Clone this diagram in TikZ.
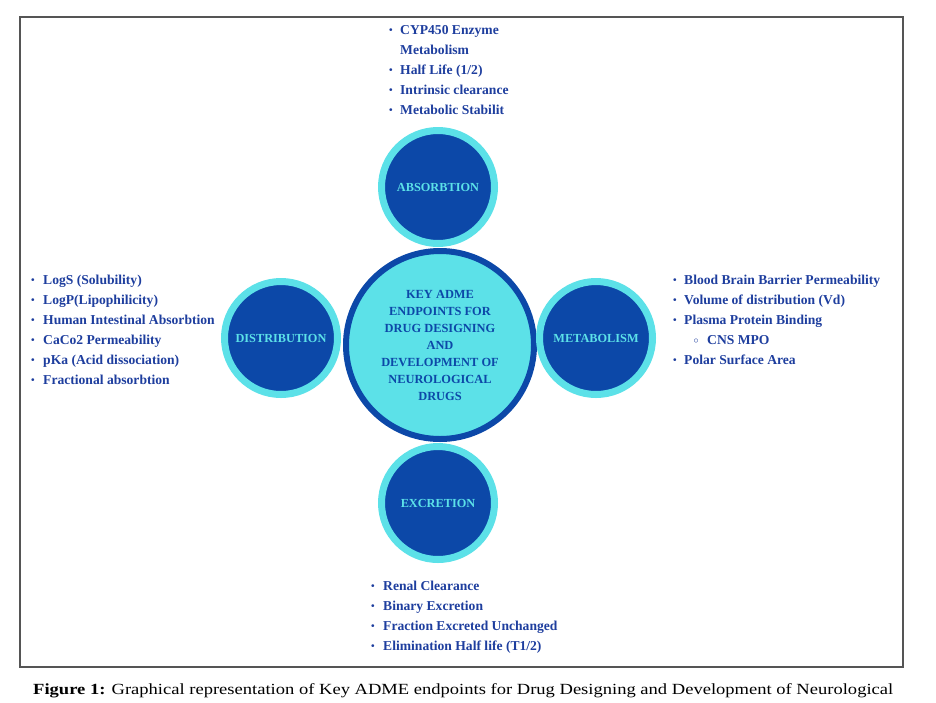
\documentclass[tikz,border=0pt]{standalone}
\usepackage{fontspec}
\setmainfont{Liberation Serif}
\usepackage{graphicx}
\usetikzlibrary{positioning}
\definecolor{admeblue}{RGB}{12,72,168}
\definecolor{admecyan}{RGB}{92,225,232}
\definecolor{listblue}{RGB}{30,62,158}
\definecolor{framegray}{RGB}{85,85,85}
\newcommand{\bul}{\raisebox{0.6pt}{\scalebox{0.75}{\textbullet}}}
\tikzset{
  endpoint/.style={circle, draw=admecyan, line width=7pt, fill=admeblue, minimum size=113pt, inner sep=0pt, text=admecyan, font=\fontsize{12.3}{14}\selectfont\bfseries},
  hub/.style={circle, draw=admeblue, line width=6pt, fill=admecyan, minimum size=188pt, inner sep=0pt, text=admeblue, align=center, font=\fontsize{12.4}{17}\selectfont\bfseries},
  listitem/.style={anchor=base west, inner sep=0pt, text=listblue, font=\fontsize{13.6}{15}\selectfont\bfseries},
  bulletmark/.style={anchor=base, inner sep=0pt, text=listblue, font=\fontsize{13.6}{15}\selectfont\bfseries},
  frame/.style={draw=framegray, line width=1.6pt}
}

\begin{document}
\begin{tikzpicture}[x=1pt,y=-1pt]
  \useasboundingbox (0,0) rectangle (936,702);
  \draw[frame] (20,17) rectangle (903,667);
  % hub and the four endpoints
  \node[hub] (hub) at (440,345) {KEY ADME\\ENDPOINTS FOR\\DRUG DESIGNING\\AND\\DEVELOPMENT OF\\NEUROLOGICAL\\DRUGS};
  \node[endpoint] (absorb) at (438,187) {ABSORBTION};
  \node[endpoint] (distrib) at (281,338) {DISTRIBUTION};
  \node[endpoint] (metab) at (596,338) {METABOLISM};
  \node[endpoint] (excret) at (438,503) {EXCRETION};
  % top list
  \foreach \y/\t [count=\k] in {34/{CYP450 Enzyme},74/{Half Life (1/2)},94/{Intrinsic clearance},114/{Metabolic Stabilit}}{
    \node[bulletmark] (absb\k) at (391,\y) {\bul};
    \node[listitem] (absi\k) at (400,\y) {\t};
  }
  \node[listitem] (absi0) at (400,54) {Metabolism};
  % left list
  \foreach \y/\t [count=\k] in {284/{LogS (Solubility)},304/{LogP(Lipophilicity)},324/{Human Intestinal Absorbtion},344/{CaCo2 Permeability},364/{pKa (Acid dissociation)},384/{Fractional absorbtion}}{
    \node[bulletmark] (disb\k) at (33,\y) {\bul};
    \node[listitem] (disi\k) at (43,\y) {\t};
  }
  % right list
  \foreach \y/\t [count=\k] in {284/{Blood Brain Barrier Permeability},304/{Volume of distribution (Vd)},324/{Plasma Protein Binding},364/{Polar Surface Area}}{
    \node[bulletmark] (metb\k) at (675,\y) {\bul};
    \node[listitem] (meti\k) at (684,\y) {\t};
  }
  \node[bulletmark] (metb0) at (696,344) {\raisebox{1pt}{$\scriptstyle\circ$}};
  \node[listitem] (meti0) at (707,344) {CNS MPO};
  % bottom list
  \foreach \y/\t [count=\k] in {590/{Renal Clearance},610/{Binary Excretion},630/{Fraction Excreted Unchanged},650/{Elimination Half life (T1/2)}}{
    \node[bulletmark] (excb\k) at (373,\y) {\bul};
    \node[listitem] (exci\k) at (383,\y) {\t};
  }
  % caption
  \node[anchor=base west, inner sep=0pt, font=\fontsize{15.5}{18}\selectfont] (caption) at (33,694)
    {\resizebox{860pt}{\height}{\textbf{Figure 1:} Graphical representation of Key ADME endpoints for Drug Designing and Development of Neurological}};
\end{tikzpicture}
\end{document}
